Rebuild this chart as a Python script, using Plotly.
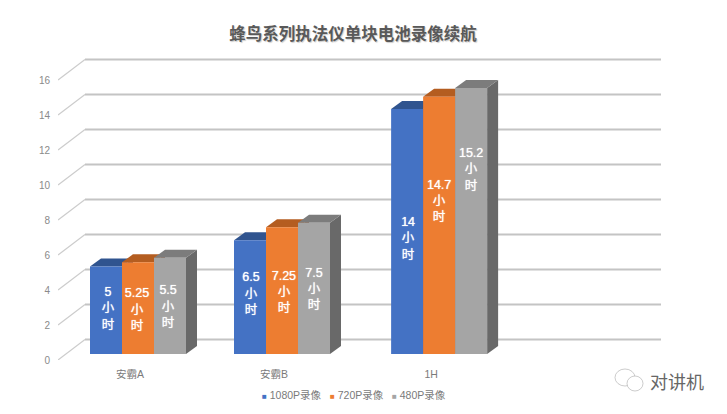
import plotly.graph_objects as go

categories = ["安霸A", "安霸B", "1H"]
series_names = ["1080P录像", "720P录像", "480P录像"]
v_1080 = [5, 6.5, 14]
v_720 = [5.25, 7.25, 14.7]
v_480 = [5.5, 7.5, 15.2]
text_1080 = ["5", "6.5", "14"]
text_720 = ["5.25", "7.25", "14.7"]
text_480 = ["5.5", "7.5", "15.2"]
# vertical centre of each hand-placed data label, on the value axis
label_1080 = [2.9, 3.75, 6.9]
label_720 = [2.83, 3.85, 9.05]
label_480 = [3.0, 4.0, 10.85]
# small horizontal nudges of the hand-placed labels, in x units
nudge_1080 = [0.06, 0.03, 0.03]
nudge_720 = [-0.03, 0.06, 0.0]
nudge_480 = [-0.06, 0.0, 0.0]
y_ticks = [0, 2, 4, 6, 8, 10, 12, 14, 16]

F = "Liberation Sans, Noto Sans CJK SC, sans-serif"
FRONT = ["#4472C4", "#ED7D31", "#A5A5A5"]
TOP = ["#30548F", "#B45D20", "#7C7C7C"]
SIDE = ["#2B4A80", "#A05220", "#696969"]
GRID = "#C4C4C4"

W, H = 727, 414
PX_X, PX_Y = 32.0, 17.5          # pixels per x unit / per value unit
AXIS_LEFT, BASE_PX = 58, 360
X_MIN = (AXIS_LEFT - 138) / PX_X
X_MAX = (W - 138) / PX_X
Y_MAX = BASE_PX / PX_Y
WALL_END = (661 - 138) / PX_X
WALL_DX, WALL_DV = 27 / PX_X, 20.5 / PX_Y
BAR_DX, BAR_DV = 11 / PX_X, 8 / PX_Y
BAR_BASE = 6 / PX_Y

cat_pos = [0, 4.5, 9.41]
label_shift = -0.25

fig = go.Figure()

# walls: diagonal on the left, gridline on the back, all below the bars
for v in y_ticks:
    fig.add_trace(go.Scatter(
        x=[X_MIN, X_MIN + WALL_DX], y=[v, v + WALL_DV], mode="lines",
        line=dict(color="#CCCCCC", width=1.2), hoverinfo="skip", showlegend=False))
    fig.add_trace(go.Scatter(
        x=[X_MIN + WALL_DX, WALL_END], y=[v + WALL_DV, v + WALL_DV], mode="lines",
        line=dict(color=GRID, width=1.8), hoverinfo="skip", showlegend=False))

all_vals = [v_1080, v_720, v_480]
all_text = [text_1080, text_720, text_480]
all_labels = [label_1080, label_720, label_480]
all_nudges = [nudge_1080, nudge_720, nudge_480]

# side and top faces
for s, vals in enumerate(all_vals):
    for c, v in zip(cat_pos, vals):
        r = c + (s - 1) + 0.5
        l = r - 1
        b, t = BAR_BASE, BAR_BASE + v
        fig.add_trace(go.Scatter(
            x=[r, r + BAR_DX, r + BAR_DX, r, r], y=[b, b + BAR_DV, t + BAR_DV, t, b],
            mode="lines", fill="toself", fillcolor=SIDE[s], line=dict(width=0),
            hoverinfo="skip", showlegend=False))
        fig.add_trace(go.Scatter(
            x=[l, l + BAR_DX, r + BAR_DX, r, l], y=[t, t + BAR_DV, t + BAR_DV, t, t],
            mode="lines", fill="toself", fillcolor=TOP[s], line=dict(width=0),
            hoverinfo="skip", showlegend=False))

# front faces and data labels on an overlaid plot so they sit above the faces
for s, vals in enumerate(all_vals):
    fig.add_trace(go.Bar(
        x=[c + s - 1 for c in cat_pos], y=vals, base=BAR_BASE, width=1,
        name=series_names[s], marker=dict(color=FRONT[s], line=dict(width=0)),
        xaxis="x2", yaxis="y2", showlegend=False))
for s, labels in enumerate(all_labels):
    fig.add_trace(go.Scatter(
        x=[c + s - 1 + n for c, n in zip(cat_pos, all_nudges[s])], y=labels,
        text=[t + "<br>小<br>时" for t in all_text[s]],
        mode="text", textposition="middle center",
        textfont=dict(family=F, size=12.5, color="white", shadow="0 0 1px #FFFFFF"),
        xaxis="x2", yaxis="y2", hoverinfo="skip", showlegend=False))

# legend row
legend_x = [260, 328, 390]
annotations = [
    dict(x=lx / W, y=(BASE_PX - 395) / BASE_PX, xref="paper", yref="paper",
         xanchor="left", yanchor="middle", showarrow=False,
         text=f'<span style="color:{FRONT[i]};font-size:8px">■</span> {series_names[i]}',
         font=dict(family=F, size=10.5, color="#7A7A7A"))
    for i, lx in enumerate(legend_x)
]
annotations.append(dict(
    x=677 / W, y=(BASE_PX - 381) / BASE_PX, xref="paper", yref="paper",
    xanchor="center", yanchor="middle", showarrow=False, text="对讲机",
    font=dict(family="Noto Sans CJK SC", size=18, color="#666666")))

shapes = [
    dict(type="circle", xref="paper", yref="paper",
         x0=615 / W, x1=635 / W,
         y0=(BASE_PX - 386) / BASE_PX, y1=(BASE_PX - 369) / BASE_PX,
         line=dict(color="#AAAAAA", width=0.6), fillcolor="white"),
    dict(type="circle", xref="paper", yref="paper",
         x0=627 / W, x1=643 / W,
         y0=(BASE_PX - 391) / BASE_PX, y1=(BASE_PX - 376) / BASE_PX,
         line=dict(color="#AAAAAA", width=0.6), fillcolor="white"),
]

fig.update_layout(
    width=W, height=H, margin=dict(l=0, r=0, t=0, b=H - BASE_PX),
    paper_bgcolor="white", plot_bgcolor="white", showlegend=False,
    barmode="overlay", annotations=annotations, shapes=shapes,
    title=dict(text="<b>蜂鸟系列执法仪单块电池录像续航</b>", x=353 / W, xanchor="center",
               y=1 - 34 / H, yanchor="middle", xref="paper", yref="container",
               font=dict(family="Noto Sans CJK SC", size=16.5, color="#595959",
                         shadow="1px 1px 1px #CCCCCC")),
    xaxis=dict(domain=[AXIS_LEFT / W, 1], range=[X_MIN, X_MAX], showgrid=False,
               zeroline=False, showline=False,
               tickmode="array", tickvals=[c + label_shift for c in cat_pos], ticktext=categories,
               ticks="outside", ticklen=4, tickcolor="rgba(0,0,0,0)",
               tickfont=dict(family=F, size=10.5, color="#7A7A7A")),
    yaxis=dict(range=[0, Y_MAX], showgrid=False, zeroline=False, showline=False,
               tickmode="array", tickvals=y_ticks, ticks="outside", ticklen=5,
               tickcolor="rgba(0,0,0,0)",
               tickfont=dict(family=F, size=10, color="#8A8A8A")),
    xaxis2=dict(overlaying="x", domain=[AXIS_LEFT / W, 1], range=[X_MIN, X_MAX], visible=False),
    yaxis2=dict(overlaying="y", range=[0, Y_MAX], visible=False),
)

fig.write_html("out.html", config={"displayModeBar": False},
               post_script="document.body.style.margin='0';")
